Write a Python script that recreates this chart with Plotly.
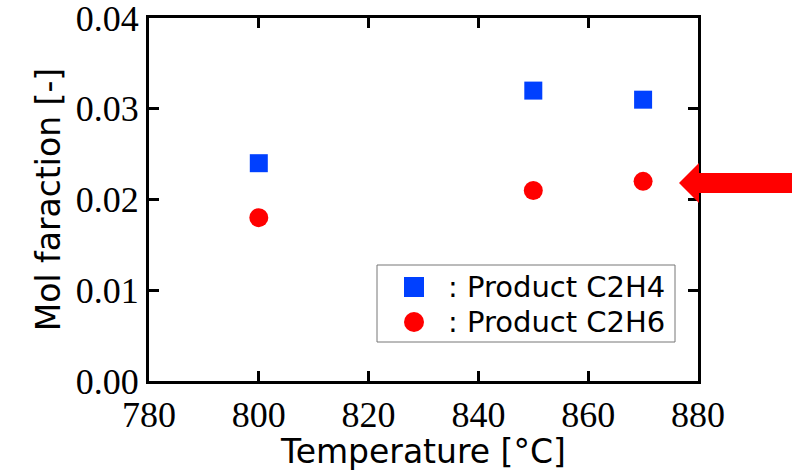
import plotly.graph_objects as go

temps = [800, 850, 870]
c2h4 = [0.024, 0.032, 0.031]
c2h6 = [0.018, 0.021, 0.022]
series_names = [": Product C2H4", ": Product C2H6"]
colors = ["#0040ff", "#ff0000"]

fig = go.Figure()
fig.add_trace(go.Scatter(x=temps, y=c2h4, mode="markers", name=series_names[0],
                         marker=dict(symbol="square", size=18, color=colors[0])))
fig.add_trace(go.Scatter(x=temps, y=c2h6, mode="markers", name=series_names[1],
                         marker=dict(symbol="circle", size=19, color=colors[1])))

axis_common = dict(showline=True, linecolor="black", linewidth=3, mirror="ticks",
                   ticks="inside", ticklen=10, tickwidth=2.5, tickcolor="black",
                   showgrid=False, zeroline=False, automargin=False,
                   ticklabeloverflow="allow",
                   tickfont=dict(family="Liberation Serif", size=36, color="black"))

fig.update_xaxes(range=[780, 880], dtick=20, tick0=780,
                 title=dict(text="Temperature [°C]", font=dict(family="DejaVu Sans", size=33, color="black"), standoff=2),
                 **axis_common)
fig.update_yaxes(range=[0, 0.04], dtick=0.01, tick0=0, tickformat=".2f",
                 title=dict(text="Mol faraction [-]", font=dict(family="DejaVu Sans", size=33, color="black"), standoff=6),
                 **axis_common)

# pixel -> paper helpers (plot area in pixels)
L, R, T, B = 149, 698, 18, 381
def px(x): return (x - L) / (R - L)
def py(y): return (B - y) / (B - T)

# red arrow
pts = [(679, 183), (699, 163), (699, 173), (792, 173), (792, 193), (699, 193), (699, 203)]
path = "M " + " L ".join(f"{px(a):.4f},{py(b):.4f}" for a, b in pts) + " Z"
fig.add_shape(type="path", path=path, xref="paper", yref="paper",
              fillcolor="#ff0000", line=dict(width=0), layer="above")

# manual legend (box, keys, labels)
fig.add_shape(type="rect", xref="paper", yref="paper",
              x0=px(377), x1=px(675), y0=py(342), y1=py(265),
              fillcolor="white", line=dict(color="#777777", width=1), layer="above")
fig.add_shape(type="rect", xref="paper", yref="paper",
              x0=px(404), x1=px(424), y0=py(297), y1=py(277),
              fillcolor=colors[0], line=dict(width=0), layer="above")
fig.add_shape(type="circle", xref="paper", yref="paper",
              x0=px(404), x1=px(424), y0=py(332), y1=py(312),
              fillcolor=colors[1], line=dict(width=0), layer="above")
for name, yc in zip(series_names, [287, 322]):
    fig.add_annotation(text=name, xref="paper", yref="paper", x=px(446), y=py(yc),
                       xanchor="left", yanchor="middle", showarrow=False,
                       font=dict(family="DejaVu Sans", size=29, color="black"))

fig.update_layout(
    width=794, height=471,
    margin=dict(l=149, r=96, t=18, b=90),
    plot_bgcolor="white", paper_bgcolor="white",
    showlegend=False,
)

fig.write_html("out.html", config={"displayModeBar": False},
               post_script="document.body.style.margin='0px';document.body.style.overflow='hidden';")
